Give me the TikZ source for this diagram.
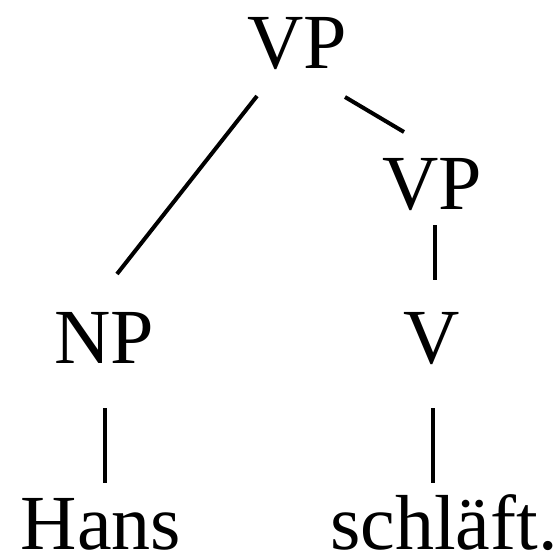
\documentclass[tikz,border=0pt]{standalone}
\usepackage{fontspec}
\setmainfont{Liberation Serif}
\usetikzlibrary{calc}
\tikzset{
  lab/.style={anchor=base, inner sep=0pt, text depth=0pt, font=\fontsize{78}{90}\selectfont},
  edge/.style={line width=4pt, line cap=butt}
}
\begin{document}
\begin{tikzpicture}[x=1pt,y=1pt]
\useasboundingbox (0,0) rectangle (559,-554);
\node[lab] (vp) at (297,-68) {VP};
\node[lab] (vp2) at (432,-209) {VP};
\node[lab] (np) at (104,-363) {NP};
\node[lab] (v) at (432,-363) {V};
\node[lab] (hans) at (101,-549) {Hans};
\node[lab] (schl) at (444,-549) {schläft.};
\draw[edge] ($(vp.base)+(-40,-28)$) -- ($(np.base)+(13,89)$);
\draw[edge] ($(vp.base)+(48,-29)$) -- ($(vp2.base)+(-28,77)$);
\draw[edge] ($(vp2.base)+(3,-16)$) -- ($(v.base)+(3,83)$);
\draw[edge] ($(np.base)+(1,-45)$) -- ($(hans.base)+(4,66)$);
\draw[edge] ($(v.base)+(1,-45)$) -- ($(schl.base)+(-11,66)$);
\end{tikzpicture}
\end{document}
